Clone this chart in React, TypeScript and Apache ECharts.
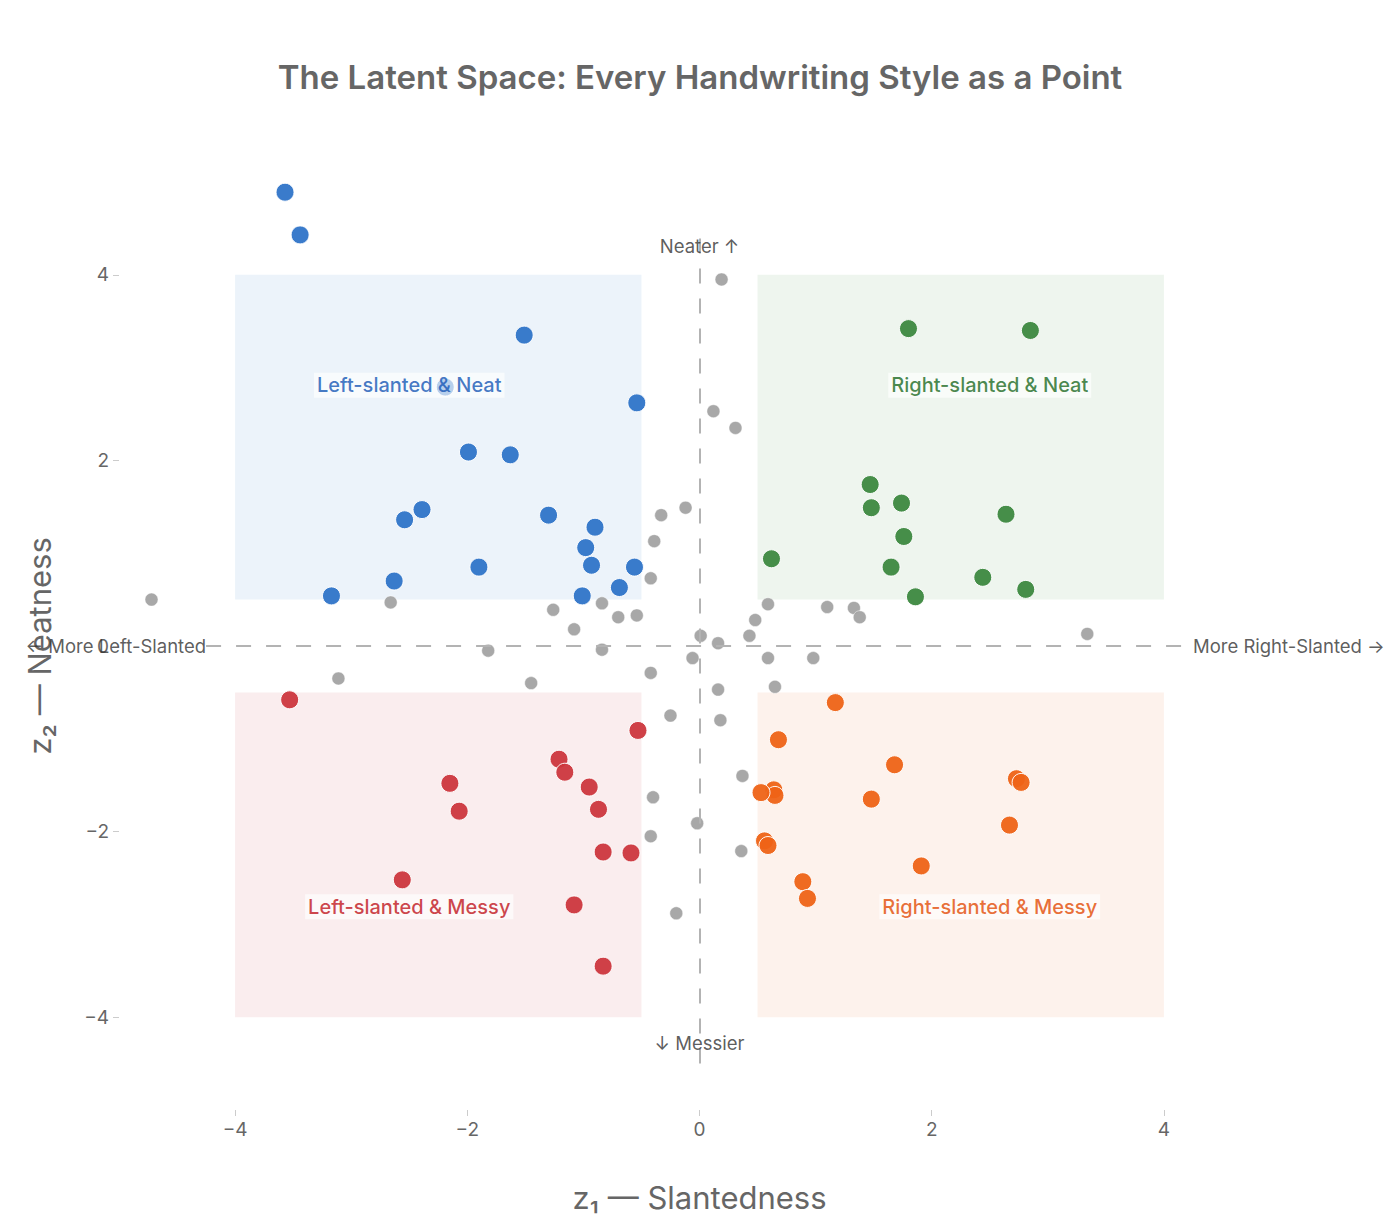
import React, { useEffect, useRef } from 'react';
import * as echarts from 'echarts';

// ---- data ----
const leftNeat: number[][] = [
  [-3.57, 4.89], [-3.44, 4.43], [-1.51, 3.35], [-2.19, 2.79], [-0.54, 2.62],
  [-1.99, 2.09], [-1.63, 2.06], [-1.3, 1.41], [-2.39, 1.47], [-2.54, 1.36],
  [-0.9, 1.28], [-0.98, 1.06], [-0.93, 0.87], [-0.56, 0.85], [-1.9, 0.85],
  [-0.69, 0.63], [-2.63, 0.7], [-1.01, 0.54], [-3.17, 0.54],
];
const rightNeat: number[][] = [
  [1.8, 3.42], [2.85, 3.4], [1.47, 1.74], [1.74, 1.54], [1.48, 1.49],
  [2.64, 1.42], [1.76, 1.18], [0.62, 0.94], [1.65, 0.85], [2.44, 0.74],
  [2.81, 0.61], [1.86, 0.53],
];
const leftMessy: number[][] = [
  [-3.53, -0.58], [-0.53, -0.91], [-1.21, -1.22], [-1.16, -1.36], [-2.15, -1.48],
  [-0.95, -1.52], [-0.87, -1.76], [-2.07, -1.78], [-0.83, -2.22], [-0.59, -2.23],
  [-2.56, -2.52], [-1.08, -2.79], [-0.83, -3.45],
];
const rightMessy: number[][] = [
  [1.17, -0.61], [0.68, -1.01], [1.68, -1.28], [2.73, -1.43], [2.77, -1.47],
  [0.64, -1.55], [0.65, -1.61], [0.53, -1.58], [1.48, -1.65], [2.67, -1.93],
  [0.56, -2.1], [0.59, -2.15], [1.91, -2.37], [0.89, -2.54], [0.93, -2.72],
];
const ambiguous: number[][] = [
  [-4.72, 0.5], [0.19, 3.95], [0.12, 2.53], [0.31, 2.35], [-0.12, 1.49],
  [-0.33, 1.41], [-0.39, 1.13], [-0.42, 0.73], [-2.66, 0.47], [-1.26, 0.39],
  [-0.84, 0.46], [-0.7, 0.31], [-0.54, 0.33], [-1.08, 0.18], [0.59, 0.45],
  [0.48, 0.28], [0.43, 0.11], [0.01, 0.11], [0.16, 0.03], [1.1, 0.42],
  [1.33, 0.41], [1.38, 0.31], [3.34, 0.13], [-1.82, -0.05], [-0.84, -0.04],
  [-0.06, -0.13], [0.59, -0.13], [0.98, -0.13], [-3.11, -0.35], [-1.45, -0.4],
  [-0.42, -0.29], [0.16, -0.47], [0.65, -0.44], [-0.25, -0.75], [0.18, -0.8],
  [0.37, -1.4], [-0.4, -1.63], [-0.02, -1.91], [-0.42, -2.05], [0.36, -2.21],
  [-0.2, -2.88],
];
const tickValues = [-4, -2, 0, 2, 4];
const quadrantNames = [
  'Left-slanted & Neat', 'Right-slanted & Neat',
  'Left-slanted & Messy', 'Right-slanted & Messy',
];

const FONT = "Inter, 'Liberation Sans', Arial, sans-serif";
const fmt = (v: number) => String(v).replace('-', '\u2212');

export default function App() {
  const ref = useRef<HTMLDivElement>(null);
  useEffect(() => {
    if (!ref.current) return;
    const chart = echarts.init(ref.current, null, { renderer: 'svg' });

    const dot = (data: number[][], color: string, name: string) => ({
      type: 'scatter', name, data, symbolSize: 18, z: 4,
      itemStyle: { color, borderColor: '#ffffff', borderWidth: 1, opacity: 0.95 },
    });
    const quadLabel = (name: string, pos: number[], color: string) => ({
      type: 'scatter', data: [pos], symbolSize: 0, z: 6, silent: true,
      label: {
        show: true, position: 'inside', formatter: name, color,
        fontSize: 20, fontFamily: FONT, fontWeight: 500,
        backgroundColor: 'rgba(255,255,255,0.8)', padding: [3, 3, 2, 3],
      },
    });
    const note = (text: string, pos: number[], align: string) => ({
      type: 'scatter', data: [pos], symbolSize: 0, z: 5, silent: true,
      label: {
        show: true, position: 'inside', formatter: text, color: '#333',
        fontSize: 18.5, fontFamily: FONT, align,
      },
    });
    const axisCommon = {
      axisLine: { show: false, onZero: false },
      splitLine: { show: false },
      axisTick: { show: true, customValues: tickValues, length: 6, lineStyle: { color: '#cccccc' } },
      axisLabel: { customValues: tickValues, formatter: fmt, fontSize: 19, color: '#666', fontFamily: FONT, margin: 10 },
      nameTextStyle: { fontSize: 31, color: '#666', fontFamily: FONT },
      nameLocation: 'middle',
    };

    const option: any = {
      animation: false,
      backgroundColor: '#ffffff',
      title: {
        text: 'The Latent Space: Every Handwriting Style as a Point',
        left: 'center', top: 55,
        textStyle: { fontSize: 33, fontWeight: 600, color: '#666', fontFamily: FONT },
      },
      grid: { left: 119, top: 182, width: 1161, height: 928 },
      xAxis: {
        ...axisCommon,
        type: 'value', min: -5, max: 5,
        name: 'z\u2081 \u2014 Slantedness', nameGap: 72,
      },
      yAxis: {
        ...axisCommon,
        type: 'value', min: -5, max: 5,
        name: 'z\u2082 \u2014 Neatness', nameGap: 64,
      },
      series: [
        {
          type: 'scatter', name: 'Ambiguous', data: ambiguous, symbolSize: 13, z: 3,
          itemStyle: { color: '#a3a3a3', borderColor: '#ffffff', borderWidth: 0.5, opacity: 0.95 },
          markArea: {
            silent: true,
            data: [
              [{ xAxis: -4, yAxis: 0.5, itemStyle: { color: '#ecf3fa' } }, { xAxis: -0.5, yAxis: 4 }],
              [{ xAxis: 0.5, yAxis: 0.5, itemStyle: { color: '#eef5ee' } }, { xAxis: 4, yAxis: 4 }],
              [{ xAxis: -4, yAxis: -4, itemStyle: { color: '#faedee' } }, { xAxis: -0.5, yAxis: -0.5 }],
              [{ xAxis: 0.5, yAxis: -4, itemStyle: { color: '#fdf2ec' } }, { xAxis: 4, yAxis: -0.5 }],
            ],
          },
          markLine: {
            silent: true, symbol: 'none', label: { show: false },
            lineStyle: { color: '#b3b3b3', width: 2, type: [15, 15] },
            data: [
              [{ coord: [0, -4.5] }, { coord: [0, 4.5] }],
              [{ coord: [-4.25, 0] }, { coord: [4.25, 0] }],
            ],
          },
        },
        dot(leftNeat, '#2f74c8', 'Left-slanted & Neat'),
        dot(rightNeat, '#3c883f', 'Right-slanted & Neat'),
        dot(leftMessy, '#cc373d', 'Left-slanted & Messy'),
        dot(rightMessy, '#ee6317', 'Right-slanted & Messy'),
        quadLabel(quadrantNames[0], [-2.5, 2.81], '#1556b5'),
        quadLabel(quadrantNames[1], [2.5, 2.81], '#1b6a1f'),
        quadLabel(quadrantNames[2], [-2.5, -2.81], '#c0141c'),
        quadLabel(quadrantNames[3], [2.5, -2.81], '#e24a04'),
        note('Neater \u2191', [0, 4.31], 'center'),
        note('\u2193 Messier', [0, -4.28], 'center'),
        note('\u2190 More Left-Slanted', [-4.25, 0], 'right'),
        note('More Right-Slanted \u2192', [4.25, 0], 'left'),
      ],
    };
    chart.setOption(option);
    return () => chart.dispose();
  }, []);
  return (
    <div
      ref={ref}
      style={{ position: 'absolute', left: 0, top: 0, width: 1400, height: 1229 }}
    />
  );
}
